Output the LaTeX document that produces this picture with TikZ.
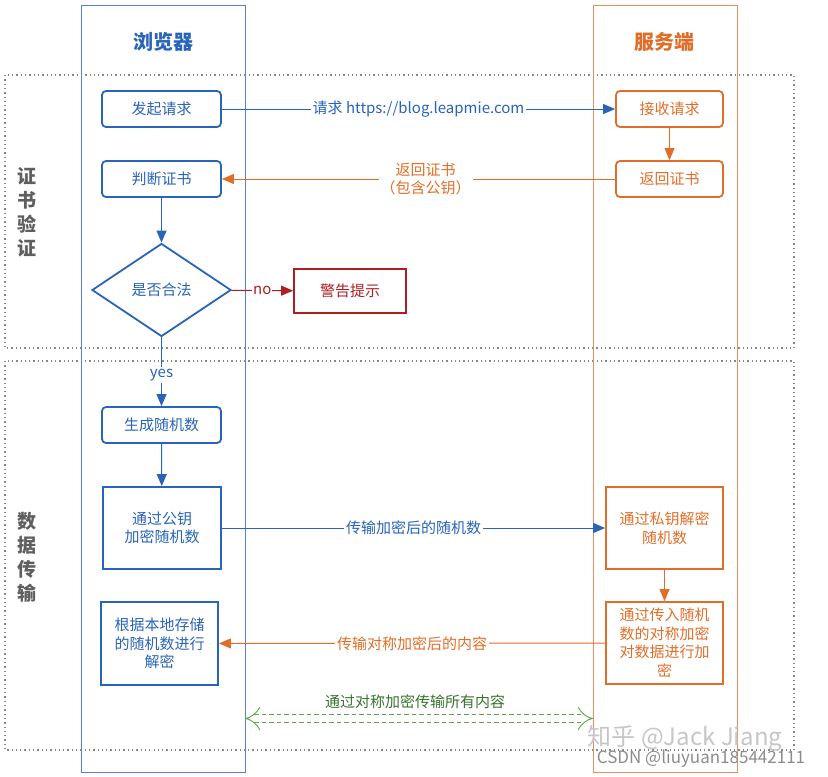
\documentclass[tikz,border=0pt]{standalone}
\usepackage{fontspec}
\setmainfont{Noto Sans CJK SC}
\definecolor{browsercol}{RGB}{40,100,185}
\definecolor{browserlane}{RGB}{85,130,205}
\definecolor{servercol}{RGB}{225,110,40}
\definecolor{serverlane}{RGB}{232,145,95}
\definecolor{warncol}{RGB}{175,30,35}
\definecolor{securecol}{RGB}{95,165,75}
\definecolor{securetext}{RGB}{55,115,45}
\definecolor{sectcol}{RGB}{95,95,95}
\usepackage{tikz}
\usetikzlibrary{shapes.geometric, arrows.meta, positioning}
\newcommand{\flowfont}{\fontsize{15}{18.5}\selectfont}
\newcommand{\titlefont}{\fontsize{20}{24}\selectfont\bfseries}
\newcommand{\sectfont}{\fontsize{19}{24}\selectfont\bfseries}

\begin{document}
\begin{tikzpicture}[x=1pt, y=-1pt,
    lane/.style={draw, line width=1pt, minimum width=#1, minimum height=767pt, inner sep=0pt},
    sect/.style={sectcol!75, line width=1.5pt, dash pattern=on 1.3pt off 3pt},
    flowbox/.style={draw, line width=1.8pt, rounded corners=4pt, minimum width=#1,
      minimum height=36pt, inner sep=0pt, font=\flowfont},
    sqbox/.style={draw, line width=1.8pt, minimum width=#1, minimum height=82pt,
      inner sep=0pt, align=center, font=\flowfont},
    tip/.style={-{Triangle[length=12pt, width=10pt]}},
    flow/.style={line width=1pt, tip},
    lbl/.style={fill=white, inner sep=2pt, font=\flowfont, align=center}]

  \useasboundingbox (0,0) rectangle (828,777);

  % Sections
  \draw[sect] (5,75) rectangle (794,348);
  \draw[sect] (5,361) rectangle (794,750);
  \node[sectcol, font=\sectfont, align=center] (certsec) at (27,212)
    {证\\书\\验\\证};
  \node[sectcol, font=\sectfont, align=center] (datasec) at (27,557)
    {数\\据\\传\\输};

  % Lanes
  \node[lane=164pt, draw=browserlane] (browser) at (163,388.5) {};
  \node[lane=144pt, draw=serverlane] (server) at (665,388.5) {};
  \node[browsercol, font=\titlefont] (btitle) at (163,42) {浏览器};
  \node[servercol, font=\titlefont] (stitle) at (664,42) {服务端};

  % Browser side
  \node[flowbox=119pt, browsercol] (req) at (161.5,109) {发起请求};
  \node[flowbox=119pt, browsercol] (check) at (161.5,179) {判断证书};
  \node[diamond, draw, browsercol, line width=1.8pt, minimum width=139pt,
    minimum height=93pt, inner sep=0pt, font=\flowfont] (valid) at (161.5,290)
    {是否合法};
  \node[draw, warncol, line width=1.8pt, minimum width=112pt, minimum height=44pt,
    font=\flowfont] (warn) at (350,291) {警告提示};
  \node[flowbox=119pt, browsercol] (rand) at (161.5,425) {生成随机数};
  \node[sqbox=118pt, browsercol] (enc) at (162,528) {通过公钥\\加密随机数};
  \node[sqbox=117pt, browsercol, minimum height=83pt] (dec) at (159.5,643.5)
    {根据本地存储\\的随机数进行\\解密};

  % Server side
  \node[flowbox=107pt, servercol] (recv) at (669.5,109) {接收请求};
  \node[flowbox=107pt, servercol] (cert) at (669.5,179) {返回证书};
  \node[sqbox=117pt, servercol] (priv) at (664.5,528) {通过私钥解密\\随机数};
  \node[sqbox=117pt, servercol] (sym) at (664.5,643)
    {通过传入随机\\数的对称加密\\对数据进行加\\密};

  % Connectors
  \draw[flow, browsercol] (req) -- node[lbl] {请求 https://blog.leapmie.com} (recv);
  \draw[flow, servercol] (recv) -- (cert);
  \draw[flow, servercol] (cert) -- node[lbl, xshift=7pt] {返回证书\\（包含公钥）} (check);
  \draw[flow, browsercol] (check) -- (valid);
  \draw[flow, warncol] (valid) -- node[lbl, inner sep=1pt] {no} (warn);
  \draw[flow, browsercol] (valid) -- node[lbl, pos=0.55] {yes} (rand);
  \draw[flow, browsercol] (rand) -- (enc);
  \draw[flow, browsercol] (enc) -- node[lbl] {传输加密后的随机数} (priv);
  \draw[flow, servercol] (priv) -- (sym);
  \draw[flow, servercol] (sym) -- node[lbl] {传输对称加密后的内容} (dec);

  % Symmetric channel
  \coordinate (symL) at (245,718.5);
  \coordinate (symR) at (593,718.5);
  \draw[securecol, line width=0.9pt, double distance=7.5pt,
    dash pattern=on 4.5pt off 3pt,
    {Implies[length=9pt, width=22pt]}-{Implies[length=9pt, width=22pt]}]
    (symL) -- (symR);
  \node[securetext, font=\flowfont] (symlbl) at (415,702) {通过对称加密传输所有内容};

  % Watermarks
  \node[gray!45, font=\fontsize{24}{28}\selectfont] (zhihu) at (685,738)
    {知乎 @Jack Jiang};
  \node[gray!90, font=\fontsize{17}{20}\selectfont] (csdn) at (701,759)
    {CSDN @liuyuan185442111};

\end{tikzpicture}
\end{document}
